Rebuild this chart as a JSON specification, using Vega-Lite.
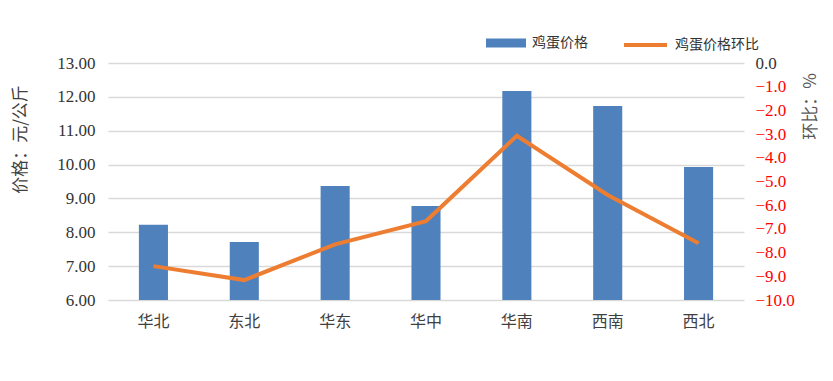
{
  "$schema": "https://vega.github.io/schema/vega-lite/v6.json",
  "width": 636,
  "height": 237,
  "autosize": {"type": "none"},
  "padding": {"left": 108, "top": 63, "right": 89, "bottom": 81},
  "background": "white",
  "config": {"view": {"stroke": null}},
  "data": {
    "values": [
      {"region": "华北", "price": 8.22, "mom": -8.57},
      {"region": "东北", "price": 7.71, "mom": -9.16},
      {"region": "华东", "price": 9.37, "mom": -7.65},
      {"region": "华中", "price": 8.78, "mom": -6.67},
      {"region": "华南", "price": 12.17, "mom": -3.07},
      {"region": "西南", "price": 11.73, "mom": -5.57},
      {"region": "西北", "price": 9.93, "mom": -7.61}
    ]
  },
  "layer": [
    {
      "mark": {"type": "bar", "width": {"band": 0.32}},
      "encoding": {
        "x": {
          "field": "region", "type": "nominal", "sort": null,
          "scale": {"paddingInner": 0, "paddingOuter": 0},
          "axis": {"title": null, "labelAngle": 0, "ticks": false, "domain": false, "labelPadding": 13,
                   "labelFont": "Noto Sans CJK SC", "labelFontSize": 16, "labelColor": "#404040"}
        },
        "y": {
          "field": "price", "type": "quantitative",
          "scale": {"domain": [6, 13], "zero": false},
          "axis": {
            "title": "价格：元/公斤", "values": [6, 7, 8, 9, 10, 11, 12, 13], "format": ".2f",
            "grid": true, "gridColor": "#D9D9D9", "gridWidth": 1.5, "ticks": false, "domain": false,
            "labelPadding": 13, "labelFont": "Liberation Serif", "labelFontSize": 17, "labelColor": "#333333",
            "titleFont": "Noto Sans CJK SC", "titleFontSize": 17, "titleFontWeight": "normal", "titleColor": "#404040",
            "titleX": -88, "titleY": 76, "titleAngle": 270, "titleBaseline": "middle", "titleAlign": "center"
          }
        },
        "y2": {"datum": 6},
        "color": {
          "datum": "鸡蛋价格",
          "scale": {"range": ["#4F81BD"]},
          "legend": {
            "orient": "none", "legendX": 378, "legendY": -40, "title": null, "padding": 0,
            "symbolType": "M-1,-0.22H1V0.22H-1Z", "symbolSize": 1600, "symbolStrokeWidth": 0,
            "labelFont": "Noto Sans CJK SC", "labelFontSize": 14, "labelColor": "#333333", "labelOffset": 6
          }
        }
      }
    },
    {
      "mark": {"type": "line", "strokeWidth": 4},
      "encoding": {
        "x": {"field": "region", "type": "nominal", "sort": null, "bandPosition": 0.5},
        "y": {
          "field": "mom", "type": "quantitative",
          "scale": {"domain": [-10, 0]},
          "axis": {
            "orient": "right", "title": "环比：%", "values": [-10, -9, -8, -7, -6, -5, -4, -3, -2, -1, 0], "format": ".1f",
            "grid": false, "ticks": false, "domain": false, "labelPadding": 11,
            "labelFont": "Liberation Serif", "labelFontSize": 17,
            "labelColor": {"condition": {"test": "datum.value == 0", "value": "#333333"}, "value": "#FF0000"},
            "titleFont": "Noto Sans CJK SC", "titleFontSize": 17, "titleFontWeight": "normal", "titleColor": "#595959",
            "titleX": 66, "titleY": 43, "titleAngle": 270, "titleBaseline": "middle", "titleAlign": "center"
          }
        },
        "stroke": {
          "datum": "鸡蛋价格环比",
          "scale": {"range": ["#ED7D31"]},
          "legend": {
            "orient": "none", "legendX": 514, "legendY": -41.5, "title": null, "padding": 0,
            "symbolType": "stroke", "symbolSize": 1849, "symbolStrokeWidth": 4,
            "labelFont": "Noto Sans CJK SC", "labelFontSize": 14, "labelColor": "#333333", "labelOffset": 6
          }
        }
      }
    }
  ],
  "resolve": {"scale": {"y": "independent"}}
}
